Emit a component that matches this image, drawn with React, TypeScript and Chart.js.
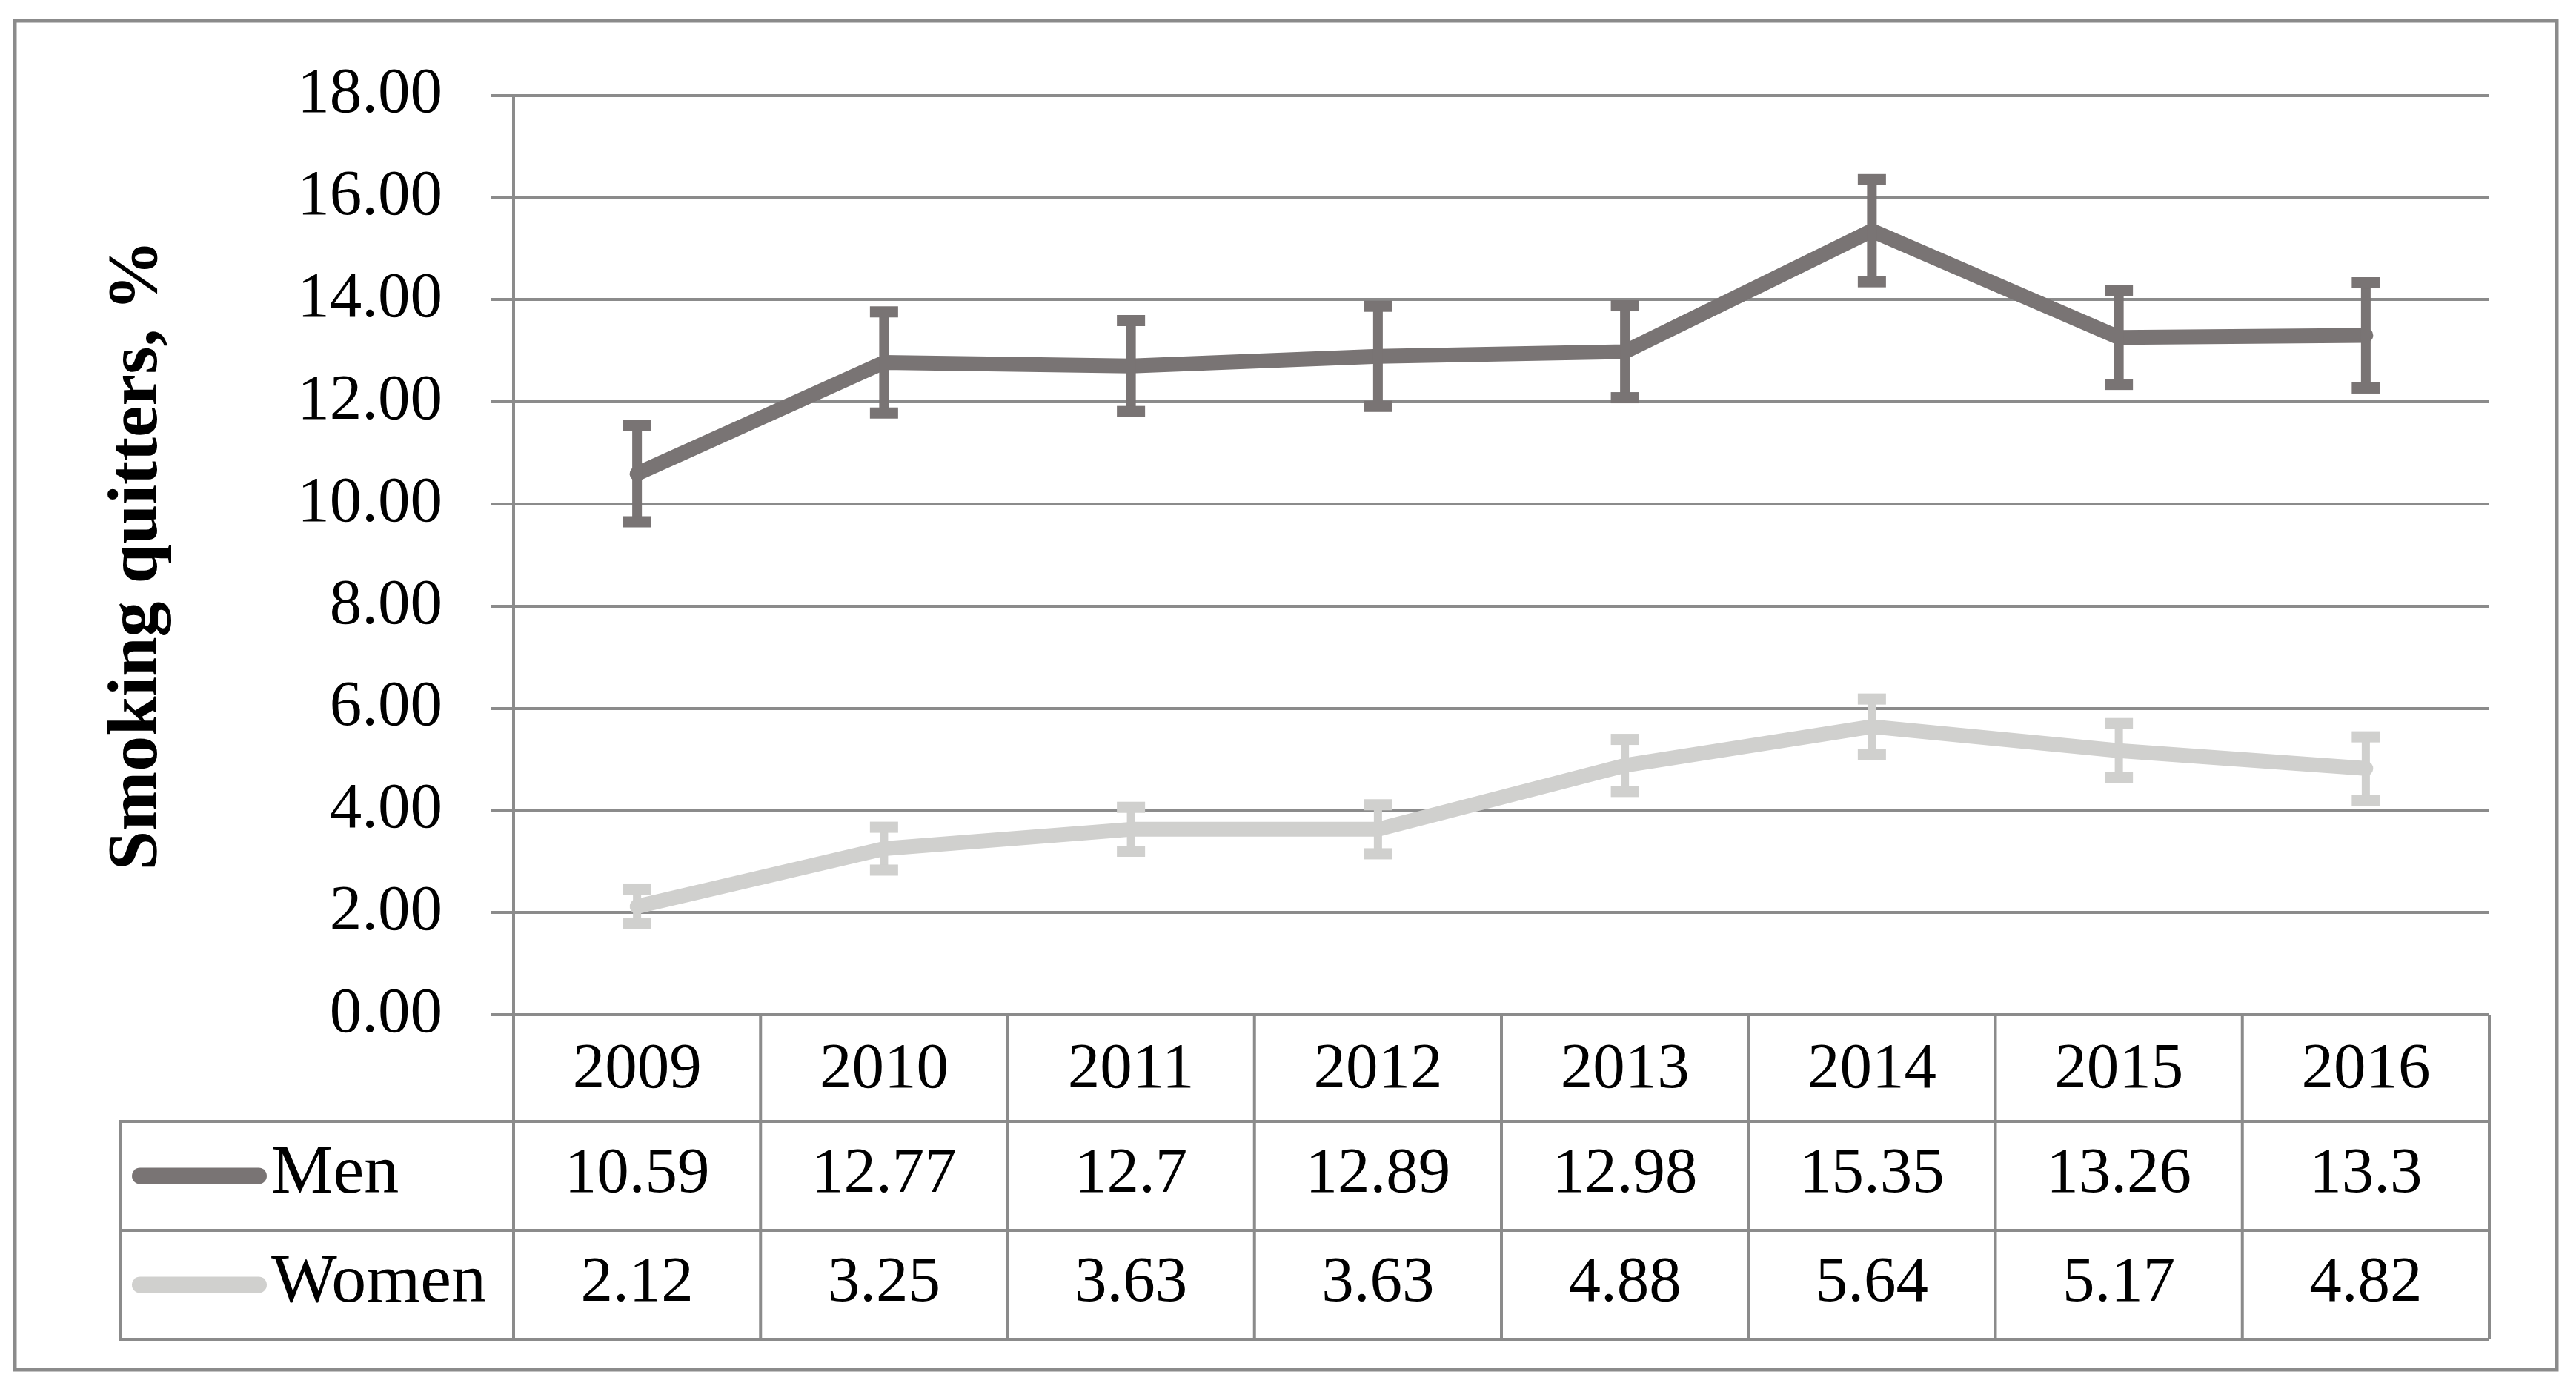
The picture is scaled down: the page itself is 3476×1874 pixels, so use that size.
import React, { useEffect, useRef } from "react";
import { Chart, registerables } from "chart.js";

Chart.register(...registerables);

// ---- data ----
const years = ["2009", "2010", "2011", "2012", "2013", "2014", "2015", "2016"];
const menValues = [10.59, 12.77, 12.7, 12.89, 12.98, 15.35, 13.26, 13.3];
const womenValues = [2.12, 3.25, 3.63, 3.63, 4.88, 5.64, 5.17, 4.82];
const menErrors = [0.94, 0.99, 0.89, 0.98, 0.9, 1.0, 0.92, 1.03];
const womenErrors = [0.34, 0.42, 0.43, 0.48, 0.51, 0.54, 0.53, 0.62];
const seriesNames = ["Men", "Women"];
const yAxisTitle = "Smoking quitters, %";
const yMin = 0;
const yMax = 18;
const yStep = 2;

// ---- styles ----
const MEN_COLOR = "#797474";
const WOMEN_COLOR = "#d0d0ce";
const GRID_COLOR = "#8b8b8b";
const FONT = "'Liberation Serif', 'Times New Roman', serif";

const errorBarPlugin = {
  id: "errorBars",
  afterDatasetsDraw(chart: any) {
    const ctx = chart.ctx;
    const yScale = chart.scales.y;
    chart.data.datasets.forEach((ds: any, di: number) => {
      const meta = chart.getDatasetMeta(di);
      const errs: number[] = ds.errors || [];
      const stemW = ds.stemWidth || 12;
      ctx.save();
      ctx.fillStyle = ds.borderColor;
      meta.data.forEach((el: any, i: number) => {
        const v = ds.data[i];
        const e = errs[i] || 0;
        const x = el.x;
        const yTop = yScale.getPixelForValue(v + e);
        const yBot = yScale.getPixelForValue(v - e);
        ctx.fillRect(x - stemW / 2, yTop, stemW, yBot - yTop);
        const capW = 38;
        const capH = 15;
        ctx.fillRect(x - capW / 2, yTop - capH / 2, capW, capH);
        ctx.fillRect(x - capW / 2, yBot - capH / 2, capW, capH);
      });
      ctx.restore();
    });
  },
};

const tablePlugin = {
  id: "dataTable",
  afterDraw(chart: any) {
    const ctx = chart.ctx;
    const area = chart.chartArea;
    const xScale = chart.scales.x;
    const n = years.length;
    const colW = (area.right - area.left) / n;
    const headerH = 144;
    const rowH = 147;
    const tableLeft = 154;
    const top = area.bottom;
    const headerBottom = top + headerH;
    const row1Bottom = headerBottom + rowH;
    const row2Bottom = row1Bottom + rowH;

    ctx.save();
    ctx.strokeStyle = GRID_COLOR;
    ctx.lineWidth = 4;
    ctx.beginPath();
    // horizontal lines
    [headerBottom, row1Bottom, row2Bottom].forEach((y) => {
      ctx.moveTo(tableLeft, y);
      ctx.lineTo(area.right, y);
    });
    // vertical column lines
    for (let k = 0; k <= n; k++) {
      const x = area.left + k * colW;
      ctx.moveTo(x, top);
      ctx.lineTo(x, row2Bottom);
    }
    // left edge of legend column
    ctx.moveTo(tableLeft, headerBottom - 2);
    ctx.lineTo(tableLeft, row2Bottom + 2);
    ctx.stroke();

    // text
    ctx.fillStyle = "#000";
    ctx.textAlign = "center";
    ctx.textBaseline = "middle";
    ctx.font = `87px ${FONT}`;
    const headerMid = top + headerH / 2 + 3;
    const row1Mid = headerBottom + rowH / 2 - 1;
    const row2Mid = row1Bottom + rowH / 2 - 1;
    years.forEach((yr, i) => {
      const cx = xScale.getPixelForValue(i);
      ctx.fillText(yr, cx, headerMid);
      ctx.fillText(String(menValues[i]), cx, row1Mid);
      ctx.fillText(String(womenValues[i]), cx, row2Mid);
    });

    // legend keys
    const keys = [
      { name: seriesNames[0], color: MEN_COLOR, y: row1Mid + 1 },
      { name: seriesNames[1], color: WOMEN_COLOR, y: row2Mid + 1 },
    ];
    keys.forEach((k) => {
      ctx.strokeStyle = k.color;
      ctx.lineWidth = 22;
      ctx.lineCap = "round";
      ctx.beginPath();
      ctx.moveTo(181, k.y);
      ctx.lineTo(341, k.y);
      ctx.stroke();
      ctx.fillStyle = "#000";
      ctx.textAlign = "left";
      ctx.font = `94px ${FONT}`;
      ctx.fillText(k.name, 358, k.y - 2);
    });

    // outer border
    ctx.strokeStyle = GRID_COLOR;
    ctx.lineWidth = 5;
    ctx.lineCap = "butt";
    ctx.strokeRect(12, 20, 3430, 1820);
    ctx.restore();
  },
};

export default function App() {
  const canvasRef = useRef<HTMLCanvasElement | null>(null);

  useEffect(() => {
    if (!canvasRef.current) return;
    const chart = new Chart(canvasRef.current, {
      type: "line",
      data: {
        labels: years,
        datasets: [
          {
            label: seriesNames[0],
            data: menValues,
            borderColor: MEN_COLOR,
            backgroundColor: MEN_COLOR,
            borderWidth: 20,
            borderJoinStyle: "round",
            borderCapStyle: "round",
            pointRadius: 0,
            tension: 0,
            fill: false,
            errors: menErrors,
            stemWidth: 13,
          } as any,
          {
            label: seriesNames[1],
            data: womenValues,
            borderColor: WOMEN_COLOR,
            backgroundColor: WOMEN_COLOR,
            borderWidth: 20,
            borderJoinStyle: "round",
            borderCapStyle: "round",
            pointRadius: 0,
            tension: 0,
            fill: false,
            errors: womenErrors,
            stemWidth: 11,
          } as any,
        ],
      },
      options: {
        animation: false,
        responsive: true,
        maintainAspectRatio: false,
        devicePixelRatio: 1,
        layout: { padding: { top: 120.6, right: 109, left: 0, bottom: 0 } },
        plugins: {
          legend: { display: false },
          tooltip: { enabled: false },
          title: { display: false },
        },
        scales: {
          x: {
            type: "category",
            offset: true,
            ticks: { display: false },
            grid: { display: false },
            border: { display: false },
            afterFit: (s: any) => {
              s.height = 497;
            },
          },
          y: {
            min: yMin,
            max: yMax,
            ticks: {
              stepSize: yStep,
              callback: (v: any) => Number(v).toFixed(2),
              font: { family: FONT, size: 87 },
              color: "#000",
              padding: 65,
            },
            grid: { color: GRID_COLOR, lineWidth: 4, tickLength: 31, drawTicks: true },
            border: { display: true, color: GRID_COLOR, width: 4 },
            title: {
              display: true,
              text: yAxisTitle,
              font: { family: FONT, size: 96, weight: "bold" },
              color: "#000",
              padding: { top: 121, bottom: 0 },
            },
            afterFit: (s: any) => {
              s.width = 685;
            },
          },
        },
      } as any,
      plugins: [errorBarPlugin, tablePlugin],
    });
    return () => chart.destroy();
  }, []);

  return (
    <div style={{ position: "relative", width: "3460px", height: "1858px" }}>
      <canvas ref={canvasRef} />
    </div>
  );
}
